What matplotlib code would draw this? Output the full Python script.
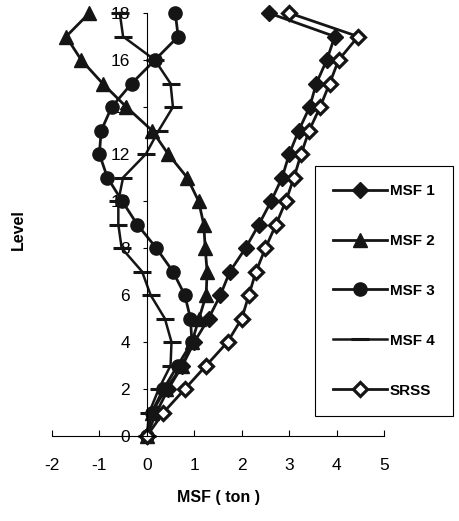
import matplotlib
matplotlib.use("Agg")
import matplotlib.pyplot as plt

# storey levels 0..18
levels = list(range(19))

msf1 = [0, 0.2, 0.45, 0.75, 1.0, 1.3, 1.55, 1.75, 2.08, 2.36, 2.62, 2.85,
        3.0, 3.2, 3.43, 3.57, 3.79, 3.96, 2.57]
msf2 = [0, 0.1, 0.4, 0.75, 0.95, 1.1, 1.25, 1.27, 1.23, 1.2, 1.09, 0.85,
        0.45, 0.11, -0.43, -0.93, -1.38, -1.7, -1.21]
msf3 = [0, 0.1, 0.35, 0.65, 0.95, 0.92, 0.8, 0.55, 0.2, -0.2, -0.52, -0.83,
        -1.0, -0.96, -0.74, -0.32, 0.17, 0.66, 0.6]
msf4 = [0, 0.05, 0.25, 0.5, 0.52, 0.38, 0.08, -0.1, -0.53, -0.6, -0.6, -0.5,
        -0.02, 0.25, 0.55, 0.5, 0.17, -0.5, -0.57]
srss = [0, 0.35, 0.8, 1.25, 1.7, 2.0, 2.15, 2.3, 2.5, 2.72, 2.93, 3.1,
        3.25, 3.42, 3.65, 3.85, 4.04, 4.45, 3.0]

x_ticks = [-2, -1, 0, 1, 2, 3, 4, 5]
y_ticks = [0, 2, 4, 6, 8, 10, 12, 14, 16, 18]

plt.rcParams['font.family'] = ['Liberation Sans', 'DejaVu Sans']
plt.rcParams['axes.unicode_minus'] = False

fig = plt.figure(figsize=(4.59, 5.21), dpi=100)
ax = fig.add_axes([0.113, 0.163, 0.724, 0.812])

ink = '#151515'
ax.plot(msf1, levels, color=ink, lw=2, marker='D', ms=8.5, mfc=ink,
        mec=ink, label='MSF 1', clip_on=False)
ax.plot(msf2, levels, color=ink, lw=2, marker='^', ms=10, mfc=ink,
        mec=ink, label='MSF 2', clip_on=False)
ax.plot(msf3, levels, color=ink, lw=2, marker='o', ms=9.5, mfc=ink,
        mec=ink, label='MSF 3', clip_on=False)
ax.plot(msf4, levels, color=ink, lw=1.8, marker='_', ms=13, mew=2.2,
        mec=ink, label='MSF 4', clip_on=False)
ax.plot(srss, levels, color=ink, lw=2, marker='D', ms=7.5, mfc='white',
        mec=ink, mew=2.3, label='SRSS', clip_on=False)

ax.set_xlim(-2, 5)
ax.set_ylim(0, 18)
ax.set_xticks(x_ticks)
ax.set_yticks(y_ticks)
ax.spines['left'].set_position(('data', 0))
ax.spines['top'].set_visible(False)
ax.spines['right'].set_visible(False)
ax.spines['left'].set_linewidth(0.8)
ax.spines['bottom'].set_linewidth(0.8)
ax.tick_params(axis='x', direction='in', length=4, labelsize=12.5, pad=16)
ax.tick_params(axis='y', direction='out', length=3, labelsize=12.5, pad=9)

fig.text(0.04, 0.56, 'Level', rotation=90, fontsize=11.5, fontweight='bold',
         ha='center', va='center')
fig.text(0.475, 0.046, 'MSF ( ton )', fontsize=11.5, fontweight='bold',
         ha='center', va='center')

leg = ax.legend(loc='upper left', bbox_to_anchor=(0.686, 0.682),
                bbox_transform=fig.transFigure, borderaxespad=0,
                fancybox=False, edgecolor='black', framealpha=1,
                prop={'weight': 'bold', 'size': 11}, handlelength=3.5,
                handletextpad=0.2, labelspacing=2.35, borderpad=1.2)
leg.get_frame().set_linewidth(0.8)

fig.savefig('out.png', dpi=100)
